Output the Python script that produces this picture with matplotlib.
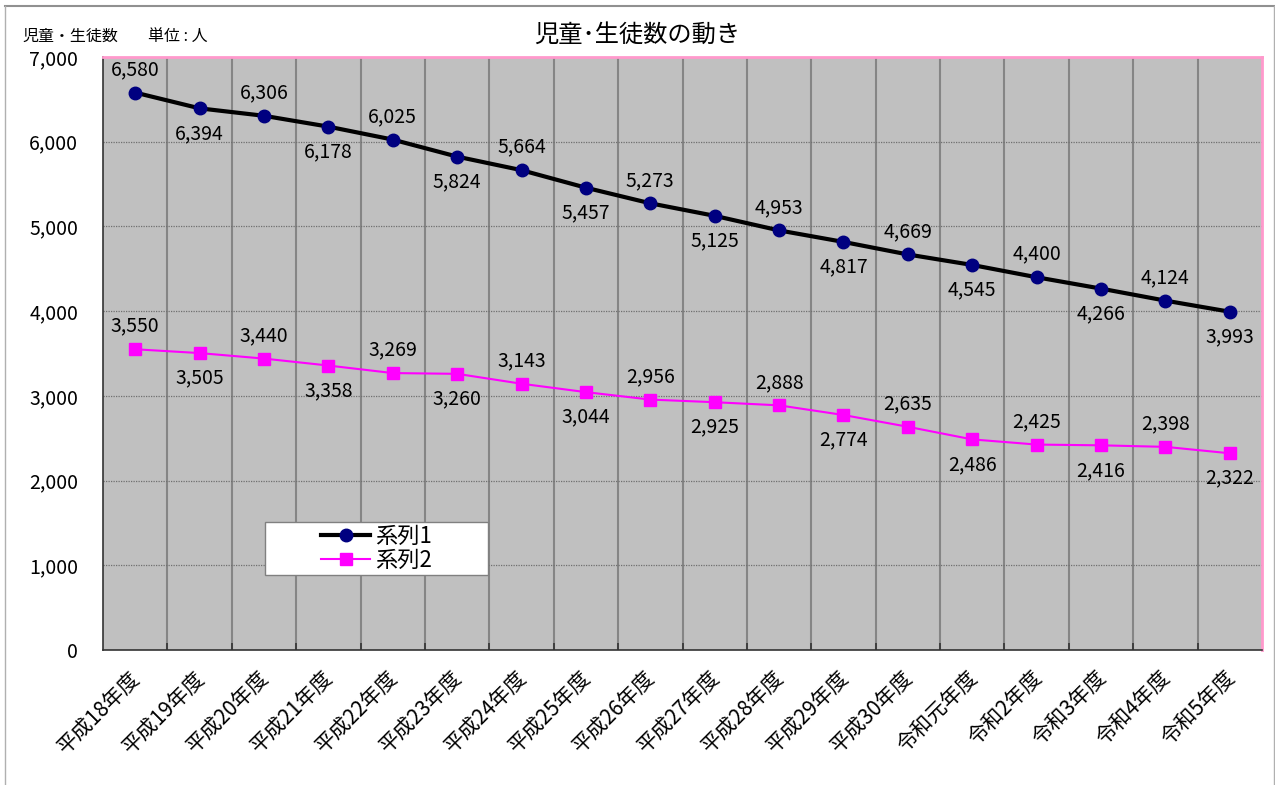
import matplotlib
matplotlib.use("Agg")
import matplotlib.pyplot as plt
import matplotlib.transforms as mtransforms
from matplotlib.lines import Line2D
from matplotlib.patches import Rectangle

plt.rcParams['font.family'] = ['Noto Sans CJK JP', 'DejaVu Sans']

# data
years = ['平成18年度', '平成19年度', '平成20年度', '平成21年度', '平成22年度',
         '平成23年度', '平成24年度', '平成25年度', '平成26年度', '平成27年度',
         '平成28年度', '平成29年度', '平成30年度', '令和元年度', '令和2年度',
         '令和3年度', '令和4年度', '令和5年度']
series1 = [6580, 6394, 6306, 6178, 6025, 5824, 5664, 5457, 5273, 5125,
           4953, 4817, 4669, 4545, 4400, 4266, 4124, 3993]
series2 = [3550, 3505, 3440, 3358, 3269, 3260, 3143, 3044, 2956, 2925,
           2888, 2774, 2635, 2486, 2425, 2416, 2398, 2322]
yticks = [0, 1000, 2000, 3000, 4000, 5000, 6000, 7000]

W, H = 1275, 785
fig = plt.figure(figsize=(W / 100, H / 100), dpi=100)

# outer chart frame (top, left, right only visible)
fig.add_artist(Line2D([5 / W, 1274 / W], [1 - 6 / H, 1 - 6 / H], color='#909090', lw=1.5))
fig.add_artist(Line2D([5 / W, 5 / W], [0, 1 - 6 / H], color='#b0b0b0', lw=1))
fig.add_artist(Line2D([1274 / W, 1274 / W], [0, 1 - 6 / H], color='#b0b0b0', lw=1))

left, right, top, bottom = 103, 1262, 57, 650
ax = fig.add_axes([left / W, 1 - bottom / H, (right - left) / W, (bottom - top) / H])
ax.set_facecolor('#C0C0C0')

n = len(years)
x = list(range(n))
ax.set_xlim(-0.5, n - 0.5)
ax.set_ylim(0, 7000)

# grid: vertical solid at category boundaries, horizontal dotted
for i in range(1, n):
    ax.axvline(i - 0.5, color='#858585', lw=1.5, zorder=1)
for v in yticks[1:-1]:
    ax.axhline(v, color='#707070', lw=0.9, ls=(0, (1, 1)), zorder=1)

for name, sp in ax.spines.items():
    sp.set_color('#FF99CC')
    sp.set_linewidth(2)
for name in ('left', 'bottom'):
    ax.spines[name].set_color('#333333')
    ax.spines[name].set_linewidth(1.2)

ax.plot(x, series1, color='black', lw=3, marker='o', ms=9,
        mfc='#000080', mec='#000080', zorder=3, label='系列1')
ax.plot(x, series2, color='#FF00FF', lw=1.5, marker='s', ms=8,
        mfc='#FF00FF', mec='#FF00FF', zorder=3, label='系列2')

for i in x:
    for vals in (series1, series2):
        off = 23 if i % 2 == 0 else -25
        ax.annotate(f'{vals[i]:,}', (i, vals[i]), xytext=(0, off),
                    textcoords='offset pixels',
                    ha='center', va='center', fontsize=14, color='black', zorder=4)

ax.set_yticks(yticks)
ax.set_yticklabels([f'{v:,}' for v in yticks], fontsize=14)
ax.tick_params(axis='y', length=0, pad=18)
ax.set_xticks(x)
ax.set_xticklabels(years, fontsize=15, rotation=45, ha='right', va='top',
                   rotation_mode='anchor')
ax.tick_params(axis='x', length=0, pad=12)
shift = mtransforms.ScaledTranslation(-6 / 100, 0, fig.dpi_scale_trans)
for lbl in ax.get_xticklabels():
    lbl.set_transform(lbl.get_transform() + shift)
ax.set_xticks([i - 0.5 for i in range(1, n)], minor=True)
ax.tick_params(axis='x', which='minor', direction='in', length=5, width=1.2, color='#333333')

# legend box
box_l, box_r, box_t, box_b = 265, 488, 522, 575
fig.add_artist(Rectangle((box_l / W, 1 - box_b / H), (box_r - box_l) / W, (box_b - box_t) / H,
                         transform=fig.transFigure, facecolor='white', edgecolor='#808080',
                         lw=1, zorder=5))
leg = fig.legend(handles=ax.get_lines()[-2:], loc='center',
                 bbox_to_anchor=((box_l + box_r) / 2 / W, 1 - (box_t + box_b) / 2 / H),
                 fontsize=16, frameon=False, handlelength=2.2,
                 borderpad=0, labelspacing=0.05, handletextpad=0.2)
leg.set_zorder(6)

fig.text(637 / W, 1 - 35 / H, '児童･生徒数の動き', ha='center', va='center', fontsize=17.5)
fig.text(22 / W, 1 - 36 / H, '児童・生徒数', ha='left', va='center', fontsize=11.5)
fig.text(148 / W, 1 - 36 / H, '単位 : 人', ha='left', va='center', fontsize=11.5)

fig.savefig('out.png', dpi=100)
